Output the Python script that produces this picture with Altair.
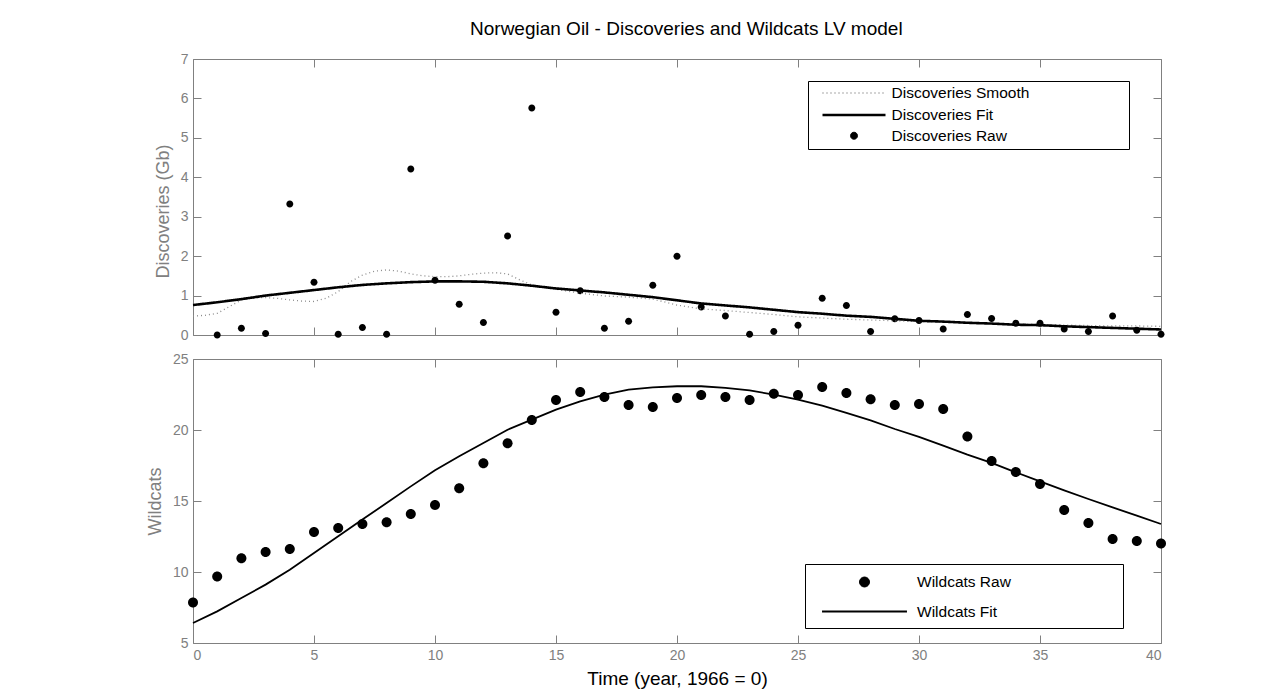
import altair as alt
import pandas as pd

# ---- data ----
years = list(range(41))

raw_years = list(range(1, 41))
disc_raw = [0.00, 0.17, 0.04, 3.32, 1.34, 0.02, 0.19, 0.02, 4.21, 1.39,
            0.78, 0.32, 2.51, 5.76, 0.58, 1.12, 0.17, 0.35, 1.26, 2.00,
            0.71, 0.48, 0.02, 0.09, 0.25, 0.93, 0.75, 0.09, 0.41, 0.37,
            0.15, 0.52, 0.42, 0.30, 0.30, 0.15, 0.09, 0.48, 0.12, 0.02]

smooth_years = [0, 0.5, 1, 1.5, 2, 2.5, 3, 3.5, 4, 4.5, 5, 5.5, 6, 6.5, 7, 7.5,
                8, 8.5, 9, 9.5, 10, 10.5, 11, 11.5, 12, 12.5, 13, 13.5, 14, 14.5,
                15, 16, 17, 18, 19, 20, 21, 22, 23, 24, 25, 26, 27, 28, 29, 30,
                31, 32, 33, 34, 35, 36, 37, 38, 39, 40]
disc_smooth = [0.48, 0.50, 0.55, 0.72, 0.89, 0.94, 0.95, 0.93, 0.89, 0.86, 0.85,
               0.93, 1.10, 1.35, 1.52, 1.62, 1.65, 1.62, 1.55, 1.50, 1.48, 1.48,
               1.50, 1.54, 1.57, 1.58, 1.55, 1.40, 1.27, 1.21, 1.16, 1.06, 0.99,
               0.96, 0.91, 0.76, 0.66, 0.62, 0.57, 0.52, 0.46, 0.43, 0.40, 0.38,
               0.36, 0.34, 0.33, 0.31, 0.29, 0.28, 0.27, 0.25, 0.24, 0.23, 0.23,
               0.22]

disc_fit = [0.76, 0.83, 0.91, 1.00, 1.07, 1.14, 1.21, 1.27, 1.31, 1.34, 1.36,
            1.36, 1.35, 1.31, 1.25, 1.18, 1.13, 1.08, 1.02, 0.96, 0.88, 0.80,
            0.75, 0.70, 0.64, 0.58, 0.54, 0.49, 0.46, 0.41, 0.36, 0.34, 0.31,
            0.29, 0.26, 0.25, 0.22, 0.20, 0.18, 0.16, 0.14]

wild_raw = [7.86, 9.69, 10.96, 11.41, 11.62, 12.82, 13.10, 13.38, 13.50, 14.08,
            14.72, 15.89, 17.65, 19.06, 20.70, 22.11, 22.68, 22.32, 21.76, 21.62,
            22.25, 22.46, 22.32, 22.11, 22.56, 22.46, 23.03, 22.61, 22.16, 21.76,
            21.83, 21.48, 19.55, 17.82, 17.04, 16.20, 14.37, 13.45, 12.32, 12.18,
            12.00]

wild_fit = [6.41, 7.23, 8.17, 9.11, 10.16, 11.34, 12.51, 13.69, 14.86, 16.03,
            17.16, 18.15, 19.08, 20.02, 20.73, 21.43, 22.02, 22.49, 22.84, 23.00,
            23.08, 23.08, 22.96, 22.79, 22.49, 22.14, 21.71, 21.20, 20.68, 20.07,
            19.51, 18.90, 18.26, 17.68, 17.02, 16.38, 15.75, 15.14, 14.55, 13.97,
            13.38]

top_series = ["Discoveries Smooth", "Discoveries Fit", "Discoveries Raw"]
bot_series = ["Wildcats Raw", "Wildcats Fit"]

FONT = "Liberation Sans"
GREY = "#808080"
TICK = 8

top_lines = pd.concat([
    pd.DataFrame({"year": smooth_years, "value": disc_smooth, "series": top_series[0]}),
    pd.DataFrame({"year": years, "value": disc_fit, "series": top_series[1]}),
])
top_points = pd.DataFrame({"year": raw_years, "value": disc_raw, "series": top_series[2]})

bot_points = pd.DataFrame({"year": years, "value": wild_raw, "series": bot_series[0]})
bot_lines = pd.DataFrame({"year": years, "value": wild_fit, "series": bot_series[1]})

x_scale = alt.Scale(domain=[0, 40], nice=False, zero=False)
x_ticks = list(range(0, 41, 5))


def circle_path(r):
    return f"M{r},0A{r},{r},0,1,1,{-r},0A{r},{r},0,1,1,{r},0Z"


def line_path(h):
    return f"M{-h},0H{h}"


def pad_labels(n):
    # trailing no-break spaces (closed by a zero-width space so they survive
    # trimming) widen the legend box like the MATLAB one
    return "datum.label + '" + "\u00a0" * n + "\u200b'"


def ax(orient, values, labels=True, title=None, **kw):
    return alt.Axis(orient=orient, values=values, labels=labels, title=title,
                    offset=-TICK, tickSize=TICK, domain=False, grid=False, **kw)


# ---------------- top panel ----------------
top_y = alt.Scale(domain=[0, 7], nice=False, zero=False)
leg_top = alt.Legend(
    title=None, orient="none", legendX=615, legendY=22,
    fillColor="white", strokeColor="black",
    padding=4, symbolSize=196, symbolOffset=33.5, labelOffset=29, rowPadding=4.5,
    labelFontSize=15.5, labelColor="black", labelFont=FONT,
    labelExpr=pad_labels(22), labelLimit=500,
)
t_color = alt.Scale(domain=top_series, range=["#8c8c8c", "black", "black"])

top_raw = alt.Chart(top_points).mark_point(filled=True, size=196, opacity=1).encode(
    x=alt.X("year:Q", scale=x_scale, axis=ax("bottom", x_ticks, labels=False)),
    y=alt.Y("value:Q", scale=top_y,
            axis=ax("left", list(range(8)), title="Discoveries (Gb)", titleY=152)),
    color=alt.Color("series:N", scale=t_color, legend=leg_top),
    shape=alt.Shape("series:N", scale=alt.Scale(
        domain=top_series, range=[line_path(4.5), line_path(4.5), circle_path(0.5)]),
        legend=leg_top),
)
top_fit = alt.Chart(top_lines).mark_line().encode(
    x=alt.X("year:Q", scale=x_scale, axis=None),
    y=alt.Y("value:Q", scale=top_y, axis=None),
    color=alt.Color("series:N", scale=t_color, legend=leg_top),
    strokeDash=alt.StrokeDash("series:N", scale=alt.Scale(
        domain=top_series, range=[[1, 3], [1, 0], [1, 0]]), legend=leg_top),
    strokeWidth=alt.StrokeWidth("series:N", scale=alt.Scale(
        type="ordinal", domain=top_series, range=[1.3, 2.6, 1]), legend=leg_top),
)
top_frame = alt.Chart(top_points).mark_point(opacity=0).encode(
    x=alt.X("year:Q", scale=x_scale, axis=ax("top", x_ticks, labels=False)),
    y=alt.Y("value:Q", scale=top_y, axis=ax("right", list(range(8)), labels=False)),
)
top = alt.layer(top_raw, top_fit, top_frame).properties(width=968, height=276)

# ---------------- bottom panel ----------------
bot_y = alt.Scale(domain=[5, 25], nice=False, zero=False)
leg_bot = alt.Legend(
    title=None, orient="none", legendX=612, legendY=205,
    fillColor="white", strokeColor="black",
    padding=8, symbolSize=361, symbolOffset=41, labelOffset=42, rowPadding=10,
    labelFontSize=15.5, labelColor="black", labelFont=FONT,
    labelExpr=pad_labels(24), labelLimit=500,
)
b_color = alt.Scale(domain=bot_series, range=["black", "black"])

bot_raw = alt.Chart(bot_points).mark_point(filled=True, size=361, opacity=1).encode(
    x=alt.X("year:Q", scale=x_scale,
            axis=ax("bottom", x_ticks, title="Time (year, 1966 = 0)")),
    y=alt.Y("value:Q", scale=bot_y,
            axis=ax("left", list(range(5, 26, 5)), title="Wildcats")),
    color=alt.Color("series:N", scale=b_color, legend=leg_bot),
    shape=alt.Shape("series:N", scale=alt.Scale(
        domain=bot_series, range=[circle_path(0.526), line_path(4.47)]), legend=leg_bot),
)
bot_fit = alt.Chart(bot_lines).mark_line().encode(
    x=alt.X("year:Q", scale=x_scale, axis=None),
    y=alt.Y("value:Q", scale=bot_y, axis=None),
    color=alt.Color("series:N", scale=b_color, legend=leg_bot),
    strokeWidth=alt.StrokeWidth("series:N", scale=alt.Scale(
        type="ordinal", domain=bot_series, range=[1, 1.8]), legend=leg_bot),
)
bot_frame = alt.Chart(bot_points).mark_point(opacity=0).encode(
    x=alt.X("year:Q", scale=x_scale, axis=ax("top", x_ticks, labels=False)),
    y=alt.Y("value:Q", scale=bot_y, axis=ax("right", list(range(5, 26, 5)), labels=False)),
)
bottom = alt.layer(bot_raw, bot_fit, bot_frame).properties(width=968, height=284)

chart = (
    alt.vconcat(top, bottom, spacing=8)
    .resolve_scale(color="independent", shape="independent",
                   strokeDash="independent", strokeWidth="independent")
    .properties(
        title=alt.TitleParams("Norwegian Oil - Discoveries and Wildcats LV model",
                              fontSize=19, fontWeight="normal", color="black",
                              font=FONT, offset=13, anchor="middle", dx=30),
        padding={"left": 137, "top": 11, "right": 5, "bottom": 5},
    )
    .configure_view(stroke=GREY, strokeWidth=1)
    .configure_axis(labelFont=FONT, labelFontSize=14, labelColor=GREY,
                    labelPadding=5, tickColor=GREY, tickWidth=1,
                    titleFont=FONT, titleFontSize=18, titleFontWeight="normal",
                    titleColor=GREY, titlePadding=8)
    .configure_axisBottom(titleColor="black", titleFontSize=19, titlePadding=7)
)

chart.save("out.html", embed_options={"renderer": "svg", "actions": False})
